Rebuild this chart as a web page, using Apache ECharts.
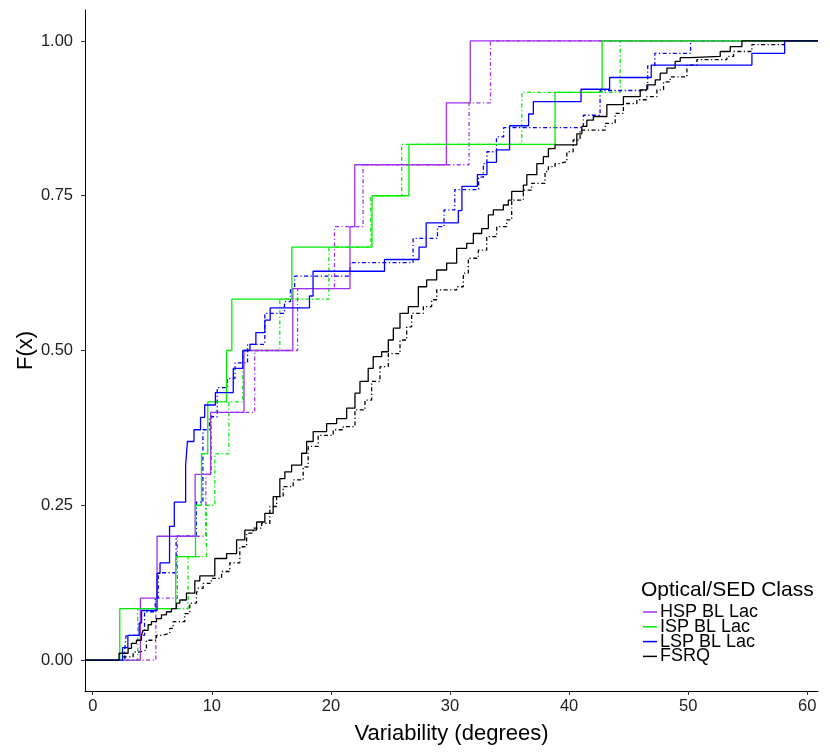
<!DOCTYPE html>
<html>
  <head>
    <meta charset="utf-8" />
    <title>ECDF of variability</title>
    <script src="https://cdn.jsdelivr.net/npm/echarts@6.0.0/dist/echarts.min.js"></script>
    <style>
      html, body { margin: 0; padding: 0; background: #fff; }
      #chart-container { width: 830px; height: 755px; }
    </style>
  </head>
  <body>
    <div id="chart-container"></div>
    <script type="text/javascript">
      // axis range (ggplot expands the data range by 5%)
      const xMin = -0.65, xMax = 60.9;
      const xTicks = [0, 10, 20, 30, 40, 50, 60];
      const yTicks = [0, 0.25, 0.5, 0.75, 1];

      // HSP BL Lac
      const hspSolidX = [4.0, 5.4, 8.6, 9.9, 12.7, 16.8, 21.6, 22.0, 29.7, 31.7];
      const hspSolidF = [0.1, 0.2, 0.3, 0.4, 0.5, 0.6, 0.7, 0.8, 0.9, 1.0];
      const hspDashX = [5.3, 7.1, 9.5, 9.95, 13.6, 17.2, 20.3, 22.7, 31.6, 33.4];
      const hspDashF = [0.1, 0.2, 0.3, 0.4, 0.5, 0.6, 0.7, 0.8, 0.9, 1.0];

      // ISP BL Lac
      const ispSolidX = [2.27, 6.97, 8.63, 9.13, 9.66, 11.24, 11.68, 16.72, 23.45, 26.55, 38.82, 42.77];
      const ispSolidF = [0.083, 0.167, 0.25, 0.333, 0.417, 0.5, 0.583, 0.667, 0.75, 0.833, 0.917, 1.0];
      const ispDashX = [3.78, 8.01, 9.55, 10.25, 11.43, 12.6, 15.71, 19.83, 23.35, 25.94, 36.03, 44.29];
      const ispDashF = [0.083, 0.167, 0.25, 0.333, 0.417, 0.5, 0.583, 0.667, 0.75, 0.833, 0.917, 1.0];

      // LSP BL Lac
      const lspSolidX = [2.5, 2.95, 3.9, 4.1, 5.4, 5.65, 6.45, 6.85, 7.8, 7.95, 8.5, 9.05, 9.4, 10.3, 11.8,
        12.6, 13.2, 13.7, 14.45, 14.9, 18.2, 18.5, 24.5, 27.4, 28.0, 30.7, 31.0, 32.3, 33.1, 33.9, 35.0,
        36.6, 37.0, 41.0, 43.4, 46.9, 55.35, 58.1];
      const lspSolidF = [0.02, 0.04, 0.06, 0.08, 0.14, 0.157, 0.216, 0.255, 0.314, 0.353, 0.372, 0.392, 0.412,
        0.432, 0.471, 0.5, 0.51, 0.529, 0.549, 0.569, 0.588, 0.628, 0.647, 0.667, 0.706, 0.726, 0.765, 0.784,
        0.804, 0.824, 0.863, 0.882, 0.902, 0.922, 0.941, 0.961, 0.98, 1.0];
      const lspDashX = [2.7, 2.8, 4.35, 5.25, 5.5, 7.0, 8.7, 9.25, 9.8, 10.45, 11.3, 11.95, 13.0, 14.45, 16.1,
        16.6, 16.95, 21.6, 26.9, 28.95, 29.5, 30.4, 32.4, 32.8, 33.1, 33.9, 34.5, 41.2, 42.6, 46.6, 47.2, 50.2];
      const lspDashF = [0.02, 0.04, 0.078, 0.1, 0.141, 0.2, 0.255, 0.372, 0.393, 0.44, 0.455, 0.48, 0.51, 0.56,
        0.579, 0.6, 0.62, 0.642, 0.681, 0.7, 0.727, 0.76, 0.78, 0.802, 0.821, 0.845, 0.86, 0.88, 0.92, 0.96, 0.98, 1.0];

      // FSRQ
      const fsrqSolidX = [2.21, 2.97, 3.25, 3.67, 4.09, 4.23, 4.65, 4.93, 5.35, 5.77, 6.19, 6.61, 7.03, 7.31,
        7.87, 8.57, 8.99, 10.25, 11.24, 12.08, 12.77, 13.76, 14.45, 15.15, 15.71, 16.13, 16.7, 17.54, 17.96,
        18.51, 19.64, 20.48, 21.32, 22.02, 22.44, 23.13, 23.55, 24.26, 24.82, 25.24, 25.8, 26.5, 27.34, 28.04,
        28.88, 29.72, 30.56, 31.4, 31.96, 32.66, 33.22, 33.64, 34.48, 34.9, 35.18, 36.16, 36.45, 37.29, 37.84,
        38.26, 38.82, 40.65, 41.07, 41.49, 42.04, 43.17, 44.56, 45.97, 46.53, 47.23, 47.65, 48.21, 48.91,
        49.33, 50.17, 52.69, 53.53, 54.51];
      const fsrqSolidF = [0.011, 0.019, 0.027, 0.032, 0.04, 0.048, 0.057, 0.062, 0.067, 0.073, 0.078, 0.083,
        0.092, 0.097, 0.108, 0.128, 0.136, 0.164, 0.172, 0.194, 0.21, 0.223, 0.237, 0.264, 0.293, 0.304, 0.315,
        0.334, 0.353, 0.369, 0.382, 0.39, 0.407, 0.431, 0.45, 0.471, 0.49, 0.498, 0.517, 0.536, 0.56, 0.571,
        0.603, 0.614, 0.63, 0.641, 0.665, 0.673, 0.689, 0.697, 0.719, 0.727, 0.735, 0.743, 0.757, 0.767, 0.784,
        0.802, 0.813, 0.826, 0.832, 0.85, 0.862, 0.872, 0.878, 0.897, 0.91, 0.921, 0.929, 0.937, 0.948, 0.956,
        0.967, 0.973, 0.975, 0.983, 0.991, 1.0];
      const fsrqDashX = [2.55, 3.39, 3.95, 4.51, 5.35, 5.77, 6.47, 6.75, 7.73, 8.15, 8.71, 8.85, 9.27, 9.97,
        10.82, 11.51, 12.35, 12.92, 13.47, 14.18, 14.87, 15.44, 15.99, 16.83, 17.67, 18.09, 18.93, 20.19,
        21.03, 22.02, 22.86, 23.42, 24.12, 24.82, 25.8, 26.36, 26.78, 27.76, 28.46, 28.88, 30.56, 31.12, 31.54,
        32.38, 33.08, 33.92, 34.76, 35.18, 36.16, 36.86, 37.98, 38.26, 38.82, 39.24, 39.81, 40.34, 40.92,
        43.03, 43.87, 44.56, 45.69, 46.53, 47.37, 47.93, 48.49, 49.89, 50.73, 53.25, 53.81, 55.35, 58.07];
      const fsrqDashF = [0.005, 0.013, 0.016, 0.032, 0.04, 0.043, 0.051, 0.062, 0.075, 0.092, 0.108, 0.116,
        0.124, 0.132, 0.143, 0.157, 0.183, 0.205, 0.213, 0.221, 0.248, 0.264, 0.28, 0.291, 0.312, 0.345,
        0.363, 0.372, 0.377, 0.404, 0.42, 0.45, 0.474, 0.495, 0.517, 0.538, 0.56, 0.571, 0.582, 0.598, 0.603,
        0.625, 0.649, 0.662, 0.684, 0.7, 0.711, 0.743, 0.759, 0.77, 0.789, 0.797, 0.802, 0.805, 0.821, 0.84,
        0.856, 0.867, 0.883, 0.899, 0.905, 0.91, 0.921, 0.934, 0.942, 0.961, 0.97, 0.975, 0.983, 0.994, 1.0];

      const classNames = ['HSP BL Lac', 'ISP BL Lac', 'LSP BL Lac', 'FSRQ'];
      const classColors = ['#A030F0', '#00EE00', '#0000FF', '#000000'];
      const dotDash = [4, 2.5, 1.2, 2.5];
      const font = 'Liberation Sans';

      function ecdf(xs, fs) {
        const pts = [[xMin, 0]];
        xs.forEach((x, i) => pts.push([x, fs[i]]));
        pts.push([xMax, 1]);
        return pts;
      }

      function makeSeries(name, color, xs, fs, dashed) {
        return {
          type: 'line',
          name: name,
          step: 'end',
          data: ecdf(xs, fs),
          showSymbol: false,
          symbol: 'none',
          silent: true,
          lineStyle: { color: color, width: 1.3, type: dashed ? dotDash : 'solid' },
          itemStyle: { color: color }
        };
      }

      const chart = echarts.init(document.getElementById('chart-container'), null, { renderer: 'canvas' });

      const option = {
        animation: false,
        backgroundColor: '#ffffff',
        grid: { left: 85, right: 12, top: 10, bottom: 64, containLabel: false },
        xAxis: {
          type: 'value',
          min: xMin,
          max: xMax,
          name: 'Variability (degrees)',
          nameLocation: 'middle',
          nameGap: 32,
          nameMoveOverlap: false,
          nameTextStyle: { fontFamily: font, fontSize: 22, color: '#000' },
          splitLine: { show: false },
          axisLine: { show: true, onZero: false, lineStyle: { color: '#000', width: 1 } },
          axisTick: { show: true, length: 4, customValues: xTicks, lineStyle: { color: '#333' } },
          axisLabel: { customValues: xTicks, margin: 7, fontFamily: font, fontSize: 16.5, color: '#222' }
        },
        yAxis: {
          type: 'value',
          min: -0.05,
          max: 1.05,
          name: 'F(x)',
          nameLocation: 'middle',
          nameGap: 48,
          nameRotate: 90,
          nameMoveOverlap: false,
          nameTextStyle: { fontFamily: font, fontSize: 22, color: '#000' },
          splitLine: { show: false },
          axisLine: { show: true, onZero: false, lineStyle: { color: '#000', width: 1 } },
          axisTick: { show: true, length: 4, customValues: yTicks, lineStyle: { color: '#333' } },
          axisLabel: {
            customValues: yTicks, margin: 12, fontFamily: font, fontSize: 16.5, color: '#222',
            formatter: v => v.toFixed(2)
          }
        },
        legend: {
          data: classNames,
          orient: 'vertical',
          left: 643,
          top: 603,
          padding: 0,
          itemGap: -3.2,
          itemWidth: 14,
          itemHeight: 1.5,
          icon: 'rect',
          selectedMode: false,
          textStyle: { fontFamily: font, fontSize: 18, color: '#000', padding: [0, 0, 0, -2] }
        },
        graphic: [{
          type: 'text',
          left: 641,
          top: 580,
          style: { text: 'Optical/SED Class', font: '21px "Liberation Sans"', fill: '#000' }
        }],
        series: [
          makeSeries('HSP dashed', classColors[0], hspDashX, hspDashF, true),
          makeSeries('ISP dashed', classColors[1], ispDashX, ispDashF, true),
          makeSeries('LSP dashed', classColors[2], lspDashX, lspDashF, true),
          makeSeries('FSRQ dashed', classColors[3], fsrqDashX, fsrqDashF, true),
          makeSeries(classNames[0], classColors[0], hspSolidX, hspSolidF, false),
          makeSeries(classNames[1], classColors[1], ispSolidX, ispSolidF, false),
          makeSeries(classNames[2], classColors[2], lspSolidX, lspSolidF, false),
          makeSeries(classNames[3], classColors[3], fsrqSolidX, fsrqSolidF, false)
        ]
      };

      chart.setOption(option);
    </script>
  </body>
</html>
